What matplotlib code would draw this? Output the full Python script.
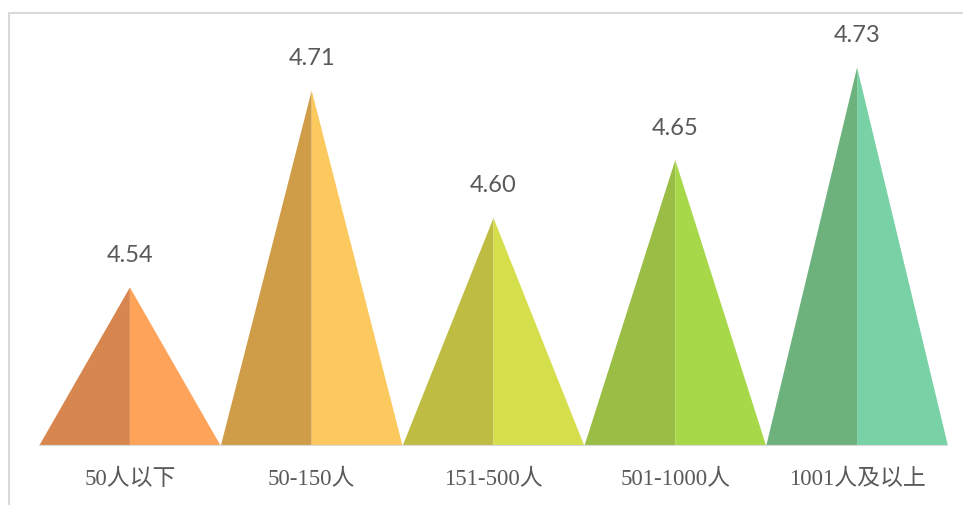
import matplotlib
matplotlib.use('Agg')
import matplotlib.pyplot as plt
from matplotlib.patches import Polygon, Rectangle

categories = ['50人以下', '50-150人', '151-500人', '501-1000人', '1001人及以上']
values = [4.54, 4.71, 4.60, 4.65, 4.73]
left_colors = ['#D8864F', '#CF9C48', '#BFBC44', '#99BD45', '#6DB27D']
right_colors = ['#FDA45A', '#FCC95F', '#D5DF4C', '#A7D84A', '#79D1A6']

y_min = 4.403
y_max = 4.777

fig = plt.figure(figsize=(9.63, 5.05), dpi=100)
W, H = 963, 505

# axes box in pixels: x 39..948, y 13..446
ax = fig.add_axes([39 / W, 1 - 446 / H, (948 - 39) / W, (446 - 13) / H])
ax.set_xlim(-0.5, len(values) - 0.5)
ax.set_ylim(y_min, y_max)
ax.axis('off')

for i, v in enumerate(values):
    left = Polygon([(i - 0.5, y_min), (i, v), (i, y_min)], closed=True,
                   facecolor=left_colors[i], edgecolor='none')
    right = Polygon([(i, y_min), (i, v), (i + 0.5, y_min)], closed=True,
                    facecolor=right_colors[i], edgecolor='none')
    ax.add_patch(left)
    ax.add_patch(right)
    ax.annotate(f'{v:.2f}', xy=(i, v), xytext=(0, 32), textcoords='offset pixels',
                ha='center', va='center', fontsize=17, color='#595959',
                family=['Lato', 'DejaVu Sans'])
    ax.annotate(categories[i], xy=(i, y_min), xytext=(0, -33), textcoords='offset pixels',
                ha='center', va='center', fontsize=16.5, color='#595959',
                family=['Liberation Serif', 'Noto Sans CJK SC'], annotation_clip=False)

# baseline
ax.axhline(y_min, color='#D9D9D9', lw=1.6, zorder=3)

# chart frame
frame = Rectangle((9 / W, -0.1), 1.2, 1.1 - 13 / H, transform=fig.transFigure,
                  fill=False, edgecolor='#D9D9D9', lw=1.5, clip_on=False)
fig.patches.append(frame)

fig.savefig('out.png', dpi=100, facecolor='white')
